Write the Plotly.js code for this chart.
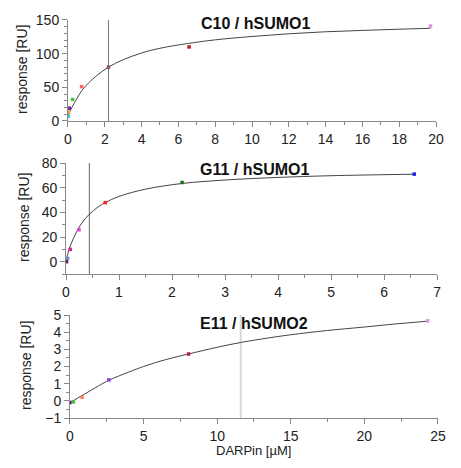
<!DOCTYPE html>
<html>
<head>
<meta charset="utf-8">
<script src="https://cdn.plot.ly/plotly-3.0.1.min.js"></script>
<style>html,body{margin:0;padding:0;background:#fff;}#chart{width:461px;height:468px;}</style>
</head>
<body>
<div id="chart"></div>
<script>
// ---- Panel 1: C10 / hSUMO1 ----
const c10PointsX = [0.02, 0.03, 0.07, 0.25, 0.74, 2.2, 6.58, 19.7];
const c10PointsY = [7, 13, 19, 32, 51, 80, 110, 141];
const c10Colors = ['#40c8e0', '#f0a030', '#8020a0', '#40c040', '#ff6060', '#905070', '#b02020', '#e090e0'];
const c10FitX = [0, 0.05, 0.1, 0.25, 0.5, 0.75, 1, 1.5, 2.2, 3, 4, 5, 6.5, 8, 10, 12, 14, 16, 18, 19.7];
const c10FitY = [8, 11, 14, 22, 34, 45, 53, 66, 80, 91, 101, 108, 115, 120.5, 125.5, 129.5, 132.5, 134.5, 136.3, 137.7];
const c10Kd = 2.2;

// ---- Panel 2: G11 / hSUMO1 ----
const g11PointsX = [0.01, 0.03, 0.08, 0.245, 0.74, 2.19, 6.57];
const g11PointsY = [0, 2.7, 10, 25.9, 47.9, 64.2, 71];
const g11Colors = ['#602040', '#6090e0', '#e020a0', '#e040e0', '#ff2020', '#207020', '#2020e0'];
const g11FitX = [0, 0.05, 0.1, 0.2, 0.3, 0.44, 0.6, 0.74, 1, 1.5, 2.19, 3, 4, 5, 6.57];
const g11FitY = [1, 8.8, 15, 24.3, 31.4, 38.5, 44.2, 47.9, 52.9, 58.8, 63.4, 66.2, 68.3, 69.7, 70.9];
const g11Kd = 0.44;

// ---- Panel 3: E11 / hSUMO2 ----
const e11PointsX = [0.0, 0.23, 0.82, 2.64, 8.06, 24.3];
const e11PointsY = [-0.1, -0.06, 0.21, 1.22, 2.73, 4.66];
const e11Colors = ['#8000a0', '#40c040', '#f08060', '#8040e0', '#b02040', '#e090e0'];
const e11FitX = [0, 0.5, 1, 2, 2.64, 4, 5, 6.5, 8.06, 10, 11.6, 13, 15, 17.5, 20, 22, 24.3];
const e11FitY = [-0.1, 0.15, 0.4, 0.9, 1.2, 1.68, 2.0, 2.4, 2.73, 3.12, 3.4, 3.6, 3.85, 4.1, 4.3, 4.47, 4.64];
const e11Kd = 11.6;

// Panel titles / axis ranges
const panelTitles = ['C10 / hSUMO1', 'G11 / hSUMO1', 'E11 / hSUMO2'];
const yRanges = [[0, 150], [-10, 80], [-1, 5]];
const xRanges = [[0, 20], [0, 7], [0, 25]];

const FONT = 'Liberation Sans, Arial, sans-serif';
const traces = [];
function addPanel(px, py, cols, fx, fy, kd, idx, kdColor, kdWidth) {
  const xa = idx === 1 ? 'x' : 'x' + idx;
  const ya = idx === 1 ? 'y' : 'y' + idx;
  const yr = yRanges[idx - 1];
  traces.push({x: [kd, kd], y: yr, mode: 'lines', line: {color: kdColor, width: kdWidth}, xaxis: xa, yaxis: ya, hoverinfo: 'skip'});
  traces.push({x: fx, y: fy, mode: 'lines', line: {color: '#444', width: 1, shape: 'spline', smoothing: 1}, xaxis: xa, yaxis: ya});
  traces.push({x: px, y: py, mode: 'markers', marker: {color: cols, size: 3.5, symbol: 'square'}, xaxis: xa, yaxis: ya});
}
addPanel(c10PointsX, c10PointsY, c10Colors, c10FitX, c10FitY, c10Kd, 1, '#777', 1);
addPanel(g11PointsX, g11PointsY, g11Colors, g11FitX, g11FitY, g11Kd, 2, '#666', 1);
addPanel(e11PointsX, e11PointsY, e11Colors, e11FitX, e11FitY, e11Kd, 3, '#d8d8d8', 2);

function ax(dom, range, dtick, minorDtick, anchor) {
  return {domain: dom, range: range, dtick: dtick, tick0: 0, showline: true, linecolor: '#888', linewidth: 1,
    ticks: 'outside', ticklen: 5, tickcolor: '#888', showgrid: false, zeroline: false, anchor: anchor,
    tickfont: {family: FONT, size: 14, color: '#222'},
    minor: {dtick: minorDtick, tick0: 0, ticks: 'outside', ticklen: 3, tickcolor: '#888', showgrid: false}};
}

const layout = {
  width: 461, height: 468, margin: {l: 0, r: 0, t: 0, b: 0},
  paper_bgcolor: '#fff', plot_bgcolor: '#fff', showlegend: false,
  xaxis: ax([0.1475, 0.9458], xRanges[0], 2, 1, 'y'),
  yaxis: ax([0.7415, 0.9573], yRanges[0], 50, 10, 'x'),
  xaxis2: ax([0.1432, 0.948], xRanges[1], 1, 0.5, 'y2'),
  yaxis2: ax([0.4145, 0.6517], yRanges[1], 20, 10, 'x2'),
  xaxis3: ax([0.1518, 0.950], xRanges[2], 5, 2.5, 'y3'),
  yaxis3: ax([0.1068, 0.3269], yRanges[2], 1, 0.5, 'x3'),
  annotations: [
    {text: '<b>' + panelTitles[0] + '</b>', xref: 'paper', yref: 'paper', x: 255 / 461, y: 1 - 23 / 468, showarrow: false, xanchor: 'center', yanchor: 'middle', font: {family: FONT, size: 16, color: '#111'}},
    {text: '<b>' + panelTitles[1] + '</b>', xref: 'paper', yref: 'paper', x: 254 / 461, y: 1 - 169 / 468, showarrow: false, xanchor: 'center', yanchor: 'middle', font: {family: FONT, size: 16, color: '#111'}},
    {text: '<b>' + panelTitles[2] + '</b>', xref: 'paper', yref: 'paper', x: 254 / 461, y: 1 - 323 / 468, showarrow: false, xanchor: 'center', yanchor: 'middle', font: {family: FONT, size: 16, color: '#111'}},
    {text: 'response [RU]', xref: 'paper', yref: 'paper', x: 22 / 461, y: 1 - 70 / 468, showarrow: false, textangle: -90, xanchor: 'center', yanchor: 'middle', font: {family: FONT, size: 14, color: '#222'}},
    {text: 'response [RU]', xref: 'paper', yref: 'paper', x: 24 / 461, y: 1 - 218 / 468, showarrow: false, textangle: -90, xanchor: 'center', yanchor: 'middle', font: {family: FONT, size: 14, color: '#222'}},
    {text: 'response [RU]', xref: 'paper', yref: 'paper', x: 26 / 461, y: 1 - 366 / 468, showarrow: false, textangle: -90, xanchor: 'center', yanchor: 'middle', font: {family: FONT, size: 14, color: '#222'}},
    {text: 'DARPin [µM]', xref: 'paper', yref: 'paper', x: 253 / 461, y: 1 - 450 / 468, showarrow: false, xanchor: 'center', yanchor: 'middle', font: {family: FONT, size: 13, color: '#222'}}
  ]
};

Plotly.newPlot('chart', traces, layout, {staticPlot: true, displayModeBar: false});
</script>
</body>
</html>
